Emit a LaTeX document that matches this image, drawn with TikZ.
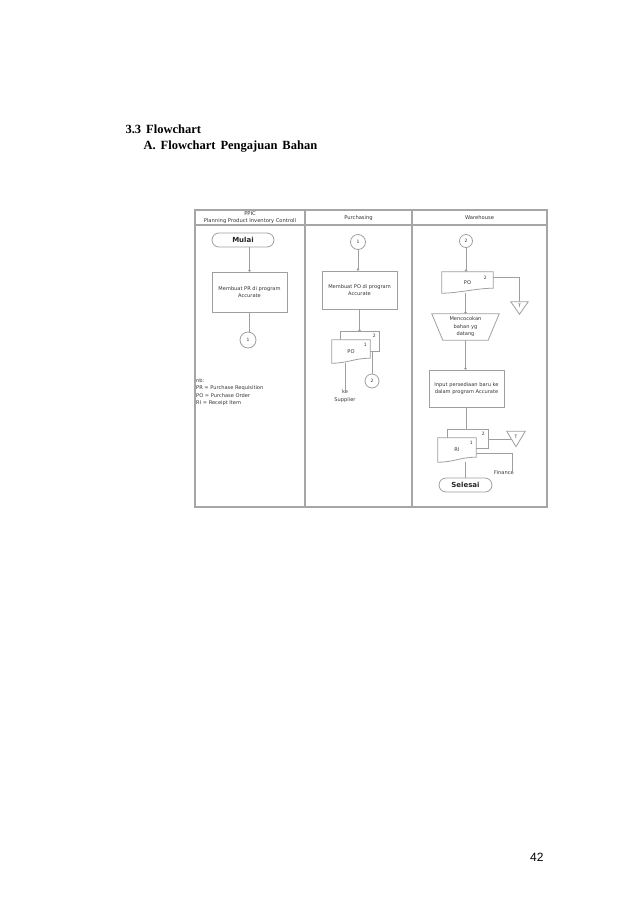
\documentclass[tikz,border=0pt]{standalone}
\usepackage{fontspec}
\setmainfont{Liberation Serif}
\newfontfamily\chartfont{DejaVu Sans}
\newfontfamily\pagefont{Liberation Sans}
\usetikzlibrary{arrows.meta,backgrounds}

\tikzset{
    ln/.style={draw=gray!75, line width=0.8},
    flowline/.style={ln, -{Circle[length=2.4pt]}},
    laneframe/.style={draw=gray!70, line width=1.2},
    lbl/.style={font=\chartfont\fontsize{5.1}{7.5}\selectfont, text=black!80, align=center, inner sep=0},
    proc/.style={lbl, ln, minimum width=75, minimum height=38},
    term/.style={ln, rounded corners=7, minimum height=14, inner sep=0,
        font=\chartfont\bfseries\fontsize{7}{8}\selectfont, text=black!85},
    conn/.style={circle, ln, minimum size=15, inner sep=0, font=\chartfont\fontsize{4.5}{5}\selectfont, text=black!80},
    docnode/.style={lbl},
    num/.style={font=\chartfont\fontsize{4.5}{5}\selectfont, text=black!80, inner sep=0},
}

% document symbol with wavy bottom, behind the text
\newcommand\docshape[1]{%
    \begin{pgfonlayer}{background}
        \draw[ln, fill=white] (#1.north west) -- (#1.north east) -- ([yshift=5]#1.south east)
            .. controls ([xshift=-16,yshift=5]#1.south east) and ([xshift=16]#1.south west) .. (#1.south west) -- cycle;
    \end{pgfonlayer}}
\newcommand\docback[1]{%
    \begin{pgfonlayer}{background}
        \draw[ln, fill=white] (#1.north west) rectangle (#1.south east);
    \end{pgfonlayer}}
\newcommand\archive[1]{\draw[ln] (#1.north west) -- (#1.north east) -- (#1.south) -- cycle;}

\begin{document}
\begin{tikzpicture}[x=1pt, y=-1pt]
    \useasboundingbox (0,0) rectangle (638,903);

    % heading
    \node[anchor=base west, font=\bfseries\fontsize{12.5}{15}\selectfont] (judul) at (122,133) {3.3\hspace{5pt}Flowchart};
    \node[anchor=base west, font=\bfseries\fontsize{12.5}{15}\selectfont] (subjudul) at (140,149)
        {A.\hspace{5pt}Flowchart\hspace{5pt}Pengajuan\hspace{5pt}Bahan};

    % swimlanes
    \draw[laneframe] (195,210) rectangle (547,507);
    \draw[laneframe] (195,225) -- (547,225);
    \draw[laneframe] (305,210) -- (305,507);
    \draw[laneframe] (412,210) -- (412,507);
    \node[lbl, font=\chartfont\fontsize{5.2}{7}\selectfont] (hdrppic) at (250,217.5) {PPIC\\Planning Product Inventory Controll};
    \node[lbl, font=\chartfont\fontsize{5.2}{7}\selectfont] (hdrbeli) at (358.5,218) {Purchasing};
    \node[lbl, font=\chartfont\fontsize{5.2}{7}\selectfont] (hdrgudang) at (479.5,218) {Warehouse};

    % PPIC
    \node[term, minimum width=62] (mulai) at (243,240) {Mulai};
    \node[proc, minimum height=40] (buatpr) at (249.5,292) {Membuat PR di program\\Accurate};
    \node[conn, minimum size=16] (kea) at (248,340) {1};
    \node[lbl, align=left, anchor=north west] (catatan) at (196,378)
        {nb:\\PR = Purchase Requisition\\PO = Purchase Order\\RI = Receipt Item};
    \draw[flowline] (mulai.south -| buatpr) -- (buatpr.north);
    \draw[ln] (buatpr.south) -- (kea.north -| buatpr.south);

    % Purchasing
    \node[conn] (dari1) at (358,242) {1};
    \node[proc] (buatpo) at (359.5,290) {Membuat PO di program\\Accurate};
    \node[docnode, minimum width=38, minimum height=19] (poblk) at (360,341.5) {};
    \node[docnode, minimum width=38, minimum height=23] (podpn) at (351,351.5) {PO};
    \docback{poblk}
    \docshape{podpn}
    \node[num] (nopoblk) at ([xshift=-5,yshift=-4]poblk.north east) {2};
    \node[num] (nopodpn) at ([xshift=-5,yshift=-5]podpn.north east) {1};
    \node[lbl] (supplier) at (345,396) {ke\\Supplier};
    \node[conn, minimum size=14] (keb) at (372,381) {2};
    \draw[flowline] (dari1.south) -- (dari1.south |- buatpo.north);
    \draw[flowline] (buatpo.south) -- (buatpo.south |- poblk.north);
    \draw[ln] (supplier.north |- podpn.south) -- (supplier.north);
    \draw[ln] (keb.north |- poblk.south) -- (keb.north);

    % Warehouse
    \node[conn, minimum size=13] (dari2) at (466,241) {2};
    \node[docnode, minimum width=51, minimum height=21] (pogudang) at (467.5,282.5) {PO};
    \docshape{pogudang}
    \node[num] (nopogudang) at ([xshift=-8,yshift=-6]pogudang.north east) {2};
    \node[lbl, minimum width=17, minimum height=12] (arsipa) at (519.5,308) {};
    \archive{arsipa}
    \node[num] at ([yshift=2]arsipa.center) {T};
    \node[lbl, minimum width=67, minimum height=26] (cocok) at (465.5,327) {Mencocokan\\bahan yg\\datang};
    \draw[ln] (cocok.north west) -- (cocok.north east) -- ([xshift=-11]cocok.south east)
        -- ([xshift=11]cocok.south west) -- cycle;
    \node[proc, minimum height=37] (input) at (466.5,388.5) {Input persediaan baru ke\\dalam program Accurate};
    \node[docnode, minimum width=40, minimum height=18] (riblk) at (468,439) {};
    \node[docnode, minimum width=38, minimum height=24] (ridpn) at (457,450) {RI};
    \docback{riblk}
    \docshape{ridpn}
    \node[num] (noriblk) at ([xshift=-5,yshift=-4]riblk.north east) {2};
    \node[num] (noridpn) at ([xshift=-5,yshift=-5]ridpn.north east) {1};
    \node[lbl, minimum width=18, minimum height=15] (arsipb) at (516,439) {};
    \archive{arsipb}
    \node[num] at ([yshift=2.5]arsipb.center) {T};
    \node[lbl] (finance) at (504,473) {Finance};
    \node[term, minimum width=53] (selesai) at (465.5,485) {Selesai};

    \draw[flowline] (dari2.south) -- (dari2.south |- pogudang.north);
    \draw[ln] ([yshift=-5.5]pogudang.north east) -| (arsipa.north);
    \draw[flowline] (pogudang.south -| cocok.north) -- (cocok.north);
    \draw[flowline] (cocok.south) -- (cocok.south |- input.north);
    \draw[ln] (input.south) -- (input.south |- riblk.north);
    \draw[ln] (riblk.east) -- ([xshift=4.5]arsipb.west);
    \draw[ln] ([yshift=-3]ridpn.east) -| ([xshift=8,yshift=-1]finance.north);
    \draw[ln] (selesai.north |- ridpn.south) -- (selesai.north);

    % page number
    \node[anchor=base east, font=\pagefont\fontsize{12}{14}\selectfont] (halaman) at (547,861) {42};
\end{tikzpicture}
\end{document}
